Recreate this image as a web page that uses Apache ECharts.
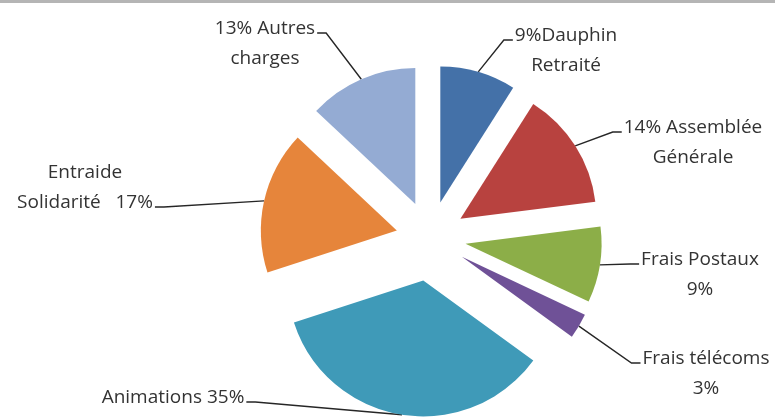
<!DOCTYPE html>
<html><head><meta charset="utf-8">
<script src="https://cdn.jsdelivr.net/npm/echarts@6/dist/echarts.min.js"></script>
<style>html,body{margin:0;padding:0;background:#fff}#c{width:775px;height:418px}</style>
</head><body><div id="c"></div>
<script>
// ---- data ----
const categories = ['Dauphin Retraité','Assemblée Générale','Frais Postaux','Frais télécoms','Animations','Entraide Solidarité','Autres charges'];
const values = [9, 14, 9, 3, 35, 17, 13];
const labelTemplates = ['{v}%Dauphin\nRetraité','{v}% Assemblée\nGénérale','Frais Postaux\n{v}%','Frais télécoms\n{v}%','Animations {v}%','Entraide\nSolidarité   {v}%','{v}% Autres\ncharges'];

// ---- styles / layout ----
const colors = ['#4471a8','#b8423f','#8cae48','#6f5197','#3f9ab8','#e6853b','#94abd3'];
const pieCenter = [430, 238];
const pieRadius = 136;
const explode = [37, 36, 36, 37, 43, 34, 37];
const labelPos = [[566,51],[693,143],[700,275],[706,374],[173,398],[85,188],[265,44]];
const labelAttach = [['left',0],['left',0],['left',0],['left',0],['right',0],['right',1],['right',0]];
const LH = 30;

const total = values.reduce((a,b)=>a+b,0);
let cum = 0;
const series = values.map((v,i)=>{
  const mid = (cum + v/2) / total * 2 * Math.PI; cum += v;
  const c = [pieCenter[0] + explode[i]*Math.sin(mid), pieCenter[1] - explode[i]*Math.cos(mid)];
  return {
    type:'pie', silent:true, animation:false,
    center:c, radius:[0,pieRadius], startAngle:90, clockwise:true,
    data: categories.map((n,j)=>({
      name:n, value:values[j],
      itemStyle:{color:colors[j], opacity: j===i?1:0},
      label:{show:j===i}, labelLine:{show:j===i}
    })),
    label:{
      show:true, position:'outside',
      formatter:p=>labelTemplates[p.dataIndex].replace('{v}', values[p.dataIndex]),
      fontFamily:'Open Sans', fontSize:19, color:'#333333', lineHeight:LH, align:'center'
    },
    labelLine:{show:true, length:15, length2:12, lineStyle:{color:'#262626', width:1.4}},
    labelLayout:function(p){
      const k = p.dataIndex, L = labelPos[k], A = labelAttach[k];
      const w = p.labelRect.width;
      const nLines = labelTemplates[k].split('\n').length;
      const yLine = L[1] - nLines*LH/2 + (A[1]+0.5)*LH + 4;
      const xEnd = A[0]==='left' ? L[0]-w/2-2 : L[0]+w/2+2;
      const xElb = A[0]==='left' ? xEnd-9 : xEnd+9;
      const anchor = p.labelLinePoints ? p.labelLinePoints[0] : [xElb, yLine];
      return {x:L[0], y:L[1], align:'center', verticalAlign:'middle',
              labelLinePoints:[anchor,[xElb,yLine],[xEnd,yLine]]};
    },
    itemStyle:{borderWidth:0}
  };
});

const chart = echarts.init(document.getElementById('c'), null, {renderer:'canvas'});
chart.setOption({
  animation:false,
  graphic:[{type:'rect', left:0, top:0, shape:{width:775, height:3}, style:{fill:'#b5b5b5'}}],
  series: series
});
</script></body></html>
